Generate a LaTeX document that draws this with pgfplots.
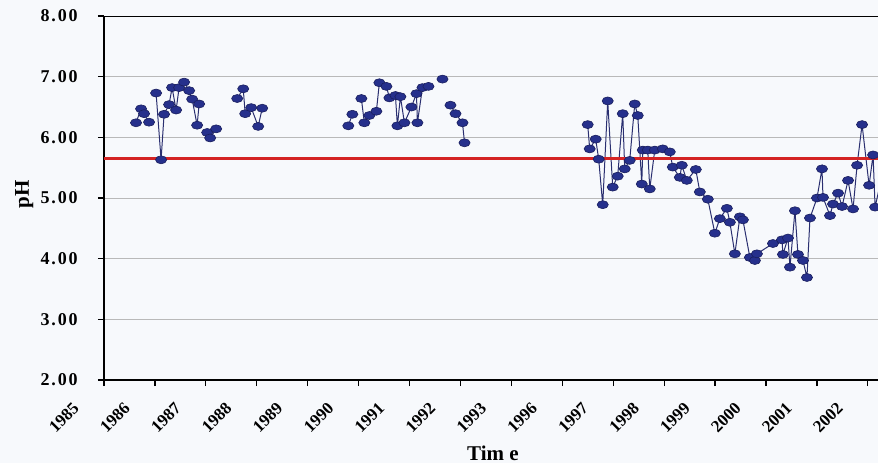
\documentclass[border=0pt]{standalone}
\usepackage{pgfplots}
\pgfplotsset{compat=1.18}
\usepackage{fontspec}
\setmainfont{Liberation Serif}
\definecolor{bg}{HTML}{F7F9FC}
\definecolor{mk}{HTML}{26308C}
\definecolor{mkd}{HTML}{1A1F5E}
\definecolor{ln}{HTML}{2A2F70}
\definecolor{rl}{HTML}{D42424}
\begin{document}
\begin{tikzpicture}
\fill[bg] (-52pt,-41.5pt) rectangle (387pt,190pt);
\begin{axis}[
  scale only axis, width=387pt, height=182pt,
  xmin=0, xmax=15.2, ymin=2, ymax=8,
  axis lines=left, axis line style={line width=0.8pt, -},
  tick align=outside, major tick length=3pt,
  tick style={black, line width=0.6pt},
  xtick={0,...,15},
  xticklabels={1985,1986,1987,1988,1989,1990,1991,1992,1993,1996,1997,1998,1999,2000,2001,2002},
  xticklabel style={xshift=-16pt, yshift=-7.5pt, rotate=45, anchor=north east, inner sep=0pt,
    font=\bfseries\fontsize{8.5}{10}\selectfont},
  ytick={2,3,4,5,6,7,8},
  yticklabel style={font=\bfseries\fontsize{9}{10}\selectfont\addfontfeatures{LetterSpace=10}, inner sep=0pt, anchor=east, xshift=-10pt},
  /pgf/number format/assume math mode=true,
  yticklabel={\pgfmathprintnumber[fixed,fixed zerofill,precision=2]{\tick}},
  ymajorgrids, grid style={gray!55, line width=0.5pt},
  ylabel={pH}, ylabel style={font=\bfseries\fontsize{10.5}{12}\selectfont, at={(axis description cs:-0.103,0.511)}, anchor=center},
  xlabel={Tim e}, xlabel style={font=\bfseries\fontsize{10.5}{12}\selectfont, at={(axis description cs:0.5026,-0.2005)}, anchor=center},
  unbounded coords=jump, clip=true,
]
\addplot[ln, line width=0.5pt, mark=*, mark size=2pt,
  mark options={fill=mk, draw=mkd, line width=0.3pt, xscale=1.4}] table[row sep=\\] {
x y\\
0.629 6.24\\ 0.728 6.47\\ 0.787 6.39\\ 0.885 6.25\\
nan nan\\
1.023 6.73\\ 1.121 5.63\\ 1.180 6.38\\ 1.278 6.54\\ 1.337 6.82\\ 1.416 6.45\\ 1.475 6.82\\ 1.573 6.91\\ 1.672 6.77\\ 1.731 6.63\\ 1.829 6.20\\ 1.868 6.55\\
nan nan\\
2.026 6.08\\ 2.085 5.99\\ 2.203 6.14\\
nan nan\\
2.616 6.64\\ 2.734 6.80\\ 2.773 6.39\\ 2.891 6.49\\ 3.028 6.18\\ 3.107 6.48\\
nan nan\\
4.798 6.19\\ 4.877 6.38\\
nan nan\\
5.054 6.64\\ 5.113 6.24\\ 5.211 6.36\\ 5.349 6.43\\ 5.408 6.90\\ 5.546 6.84\\ 5.605 6.65\\ 5.723 6.69\\ 5.762 6.19\\ 5.821 6.67\\ 5.900 6.24\\ 6.037 6.50\\ 6.136 6.72\\ 6.155 6.24\\ 6.254 6.82\\ 6.372 6.84\\
nan nan\\
6.647 6.96\\
nan nan\\
6.804 6.53\\ 6.903 6.39\\ 7.040 6.24\\ 7.080 5.91\\
nan nan\\
9.499 6.21\\ 9.538 5.81\\ 9.656 5.97\\ 9.715 5.64\\ 9.794 4.89\\ 9.892 6.60\\ 9.990 5.18\\ 10.088 5.36\\ 10.187 6.39\\ 10.226 5.48\\ 10.324 5.62\\ 10.423 6.55\\ 10.482 6.36\\ 10.561 5.23\\ 10.580 5.79\\ 10.678 5.79\\ 10.718 5.15\\ 10.816 5.79\\ 10.973 5.81\\ 11.111 5.76\\ 11.170 5.51\\ 11.308 5.34\\ 11.347 5.54\\ 11.445 5.29\\ 11.622 5.47\\ 11.701 5.10\\ 11.858 4.98\\ 11.996 4.42\\ 12.094 4.66\\ 12.232 4.83\\ 12.291 4.60\\ 12.389 4.08\\ 12.488 4.69\\ 12.547 4.64\\ 12.684 4.02\\ 12.783 3.97\\ 12.822 4.08\\ 13.137 4.25\\ 13.314 4.31\\ 13.333 4.07\\ 13.432 4.34\\ 13.471 3.86\\ 13.569 4.79\\ 13.628 4.07\\ 13.727 3.97\\ 13.805 3.69\\ 13.864 4.67\\ 14.002 5.00\\ 14.100 5.48\\ 14.120 5.01\\ 14.257 4.71\\ 14.316 4.90\\ 14.415 5.08\\ 14.494 4.86\\ 14.612 5.29\\ 14.710 4.82\\ 14.789 5.54\\ 14.887 6.21\\ 15.025 5.21\\ 15.103 5.71\\ 15.143 4.85\\ 15.339 5.60\\
};
\addplot[rl, line width=1.4pt] coordinates {(0,5.65) (15.2,5.65)};
\draw[black, line width=0.8pt] (rel axis cs:0,1) -- (rel axis cs:1,1);
\end{axis}
\pgfresetboundingbox
\path[use as bounding box] (-52pt,-41.5pt) rectangle (387pt,190pt);
\end{tikzpicture}
\end{document}
